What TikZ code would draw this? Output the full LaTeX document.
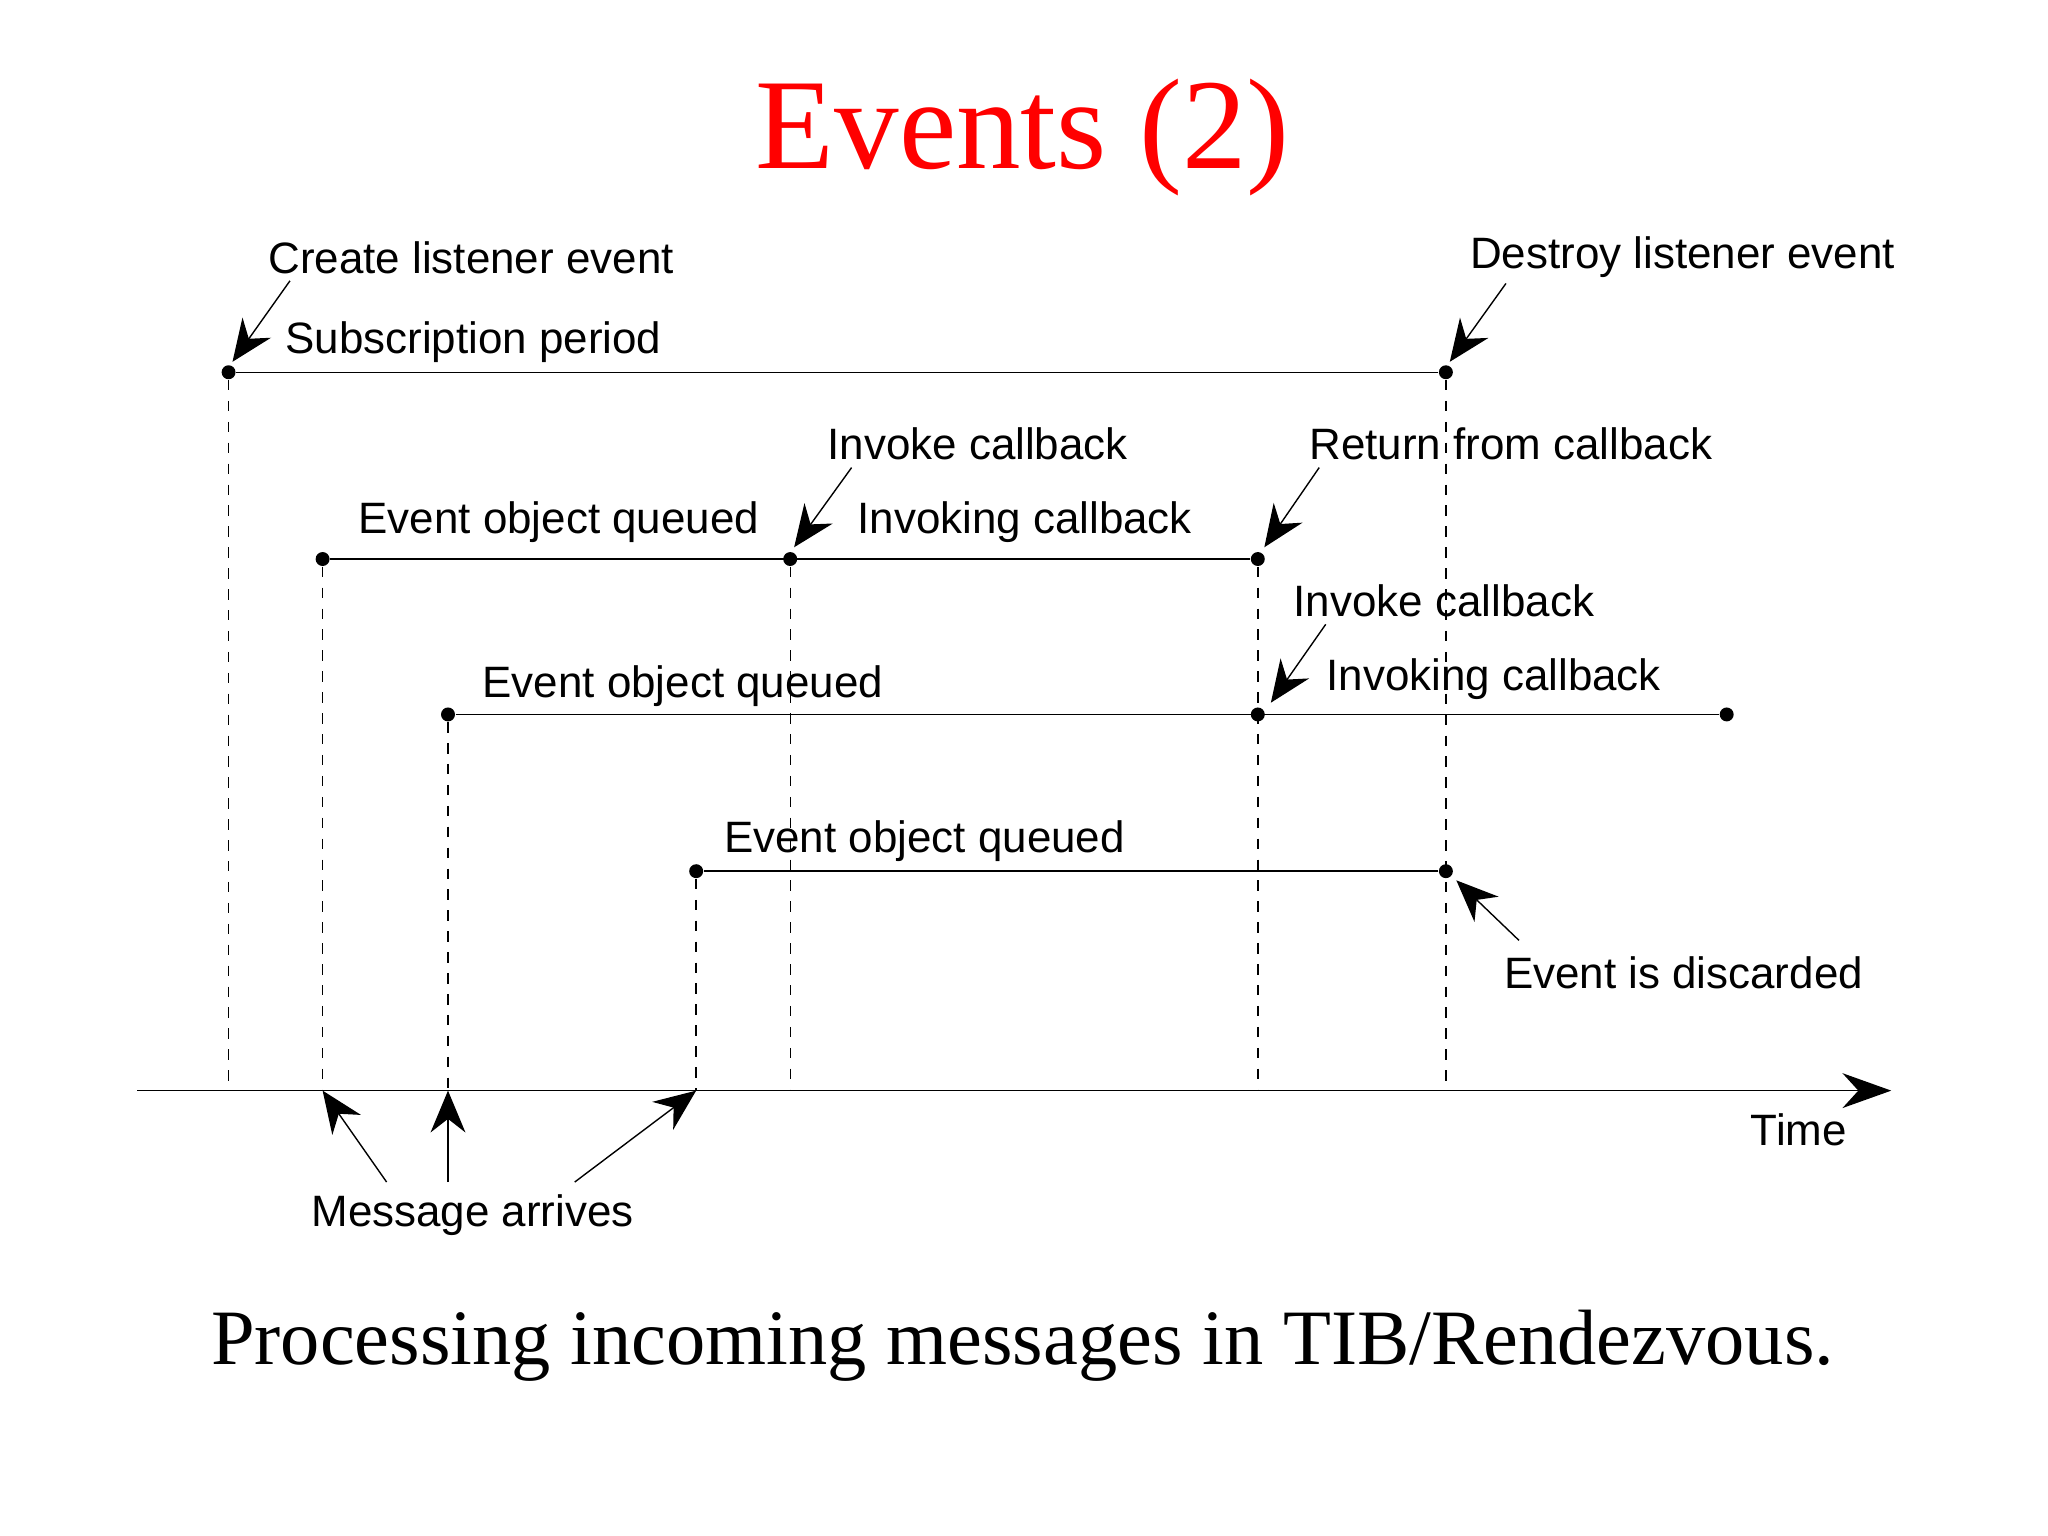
\documentclass[tikz,border=0pt]{standalone}
\usepackage{fontspec}
\setmainfont{Liberation Serif}
\newfontfamily\lab{Liberation Sans}
\usetikzlibrary{arrows.meta}
\begin{document}
\begin{tikzpicture}[x=0.01317cm, y=-0.01317cm,
    txt/.style={font=\lab\fontsize{12.6}{15}\selectfont, anchor=west, inner sep=0pt},
    pt/.style={circle, fill=black, inner sep=0pt, minimum size=4pt},
    ptr/.style={-{Stealth[length=12pt, width=10pt]}, thin},
    drop/.style={dashed, thin}]
    \useasboundingbox (0,0) rectangle (1568,1176);
    %Title and caption
    \node[text=red, font=\fontsize{37}{40}\selectfont] (title) at (783,105) {Events (2)};
    \node[font=\fontsize{22.5}{26}\selectfont] (caption) at (783,1030) {Processing incoming messages in TIB/Rendezvous.};
    %Points
    \node[pt] at (175,285) (s1) {};
    \node[pt] at (1107,285) (s2) {};
    \node[pt] at (247,428) (a1) {};
    \node[pt] at (605,428) (a2) {};
    \node[pt] at (963,428) (a3) {};
    \node[pt] at (343,547) (b1) {};
    \node[pt] at (963,547) (b2) {};
    \node[pt] at (1322,547) (b3) {};
    \node[pt] at (533,667) (c1) {};
    \node[pt] at (1107,667) (c2) {};
    \coordinate (t0) at (105,835);
    \coordinate (t1) at (1448,835);
    \foreach \n/\x in {s1/175,s2/1107,a1/247,a2/605,a3/963,b1/343,c1/533}
        \coordinate (f\n) at (\x,835);
    %Lines
    \draw[thin] (s1) -- (s2);
    \draw[thin] (a1) -- (a3);
    \draw[thin] (b1) -- (b3);
    \draw[thin] (c1) -- (c2);
    \draw[-{Stealth[length=14pt, width=10pt]}, thin] (t0) -- (t1);
    \foreach \n in {s1,s2,a1,a2,a3,b1,c1}
        \draw[drop] (\n) -- (f\n);
    %Labels
    \node[txt] at (205,197) {Create listener event};
    \node[txt] at (218,262) {Subscription period};
    \node[txt] at (1125,197) {Destroy listener event};
    \node[txt] at (633,340) {Invoke callback};
    \node[txt] at (274,400) {Event object queued};
    \node[txt] at (656,400) {Invoking callback};
    \node[txt] at (1002,340) {Return from callback};
    \node[txt] at (990,460) {Invoke callback};
    \node[txt] at (1015,520) {Invoking callback};
    \node[txt] at (369,525) {Event object queued};
    \node[txt] at (554,644) {Event object queued};
    \node[txt] at (1151,745) {Event is discarded};
    \node[txt] at (1340,865) {Time};
    \node[txt] at (238,930) {Message arrives};
    %Pointers
    \coordinate (p1) at (222,215);
    \coordinate (p2) at (1153,217);
    \coordinate (p3) at (652,358);
    \coordinate (p4) at (1010,358);
    \coordinate (p5) at (1015,478);
    \coordinate (p6) at (1163,720);
    \coordinate (m1) at (296,905);
    \coordinate (m2) at (343,905);
    \coordinate (m3) at (440,905);
    \draw[ptr] (p1) -- (178,277);
    \draw[ptr] (p2) -- (1110,277);
    \draw[ptr] (p3) -- (608,419);
    \draw[ptr] (p4) -- (968,419);
    \draw[ptr] (p5) -- (973,538);
    \draw[ptr] (p6) -- (1115,674);
    \draw[ptr] (m1) -- (fa1);
    \draw[ptr] (m2) -- (fb1);
    \draw[ptr] (m3) -- (fc1);
\end{tikzpicture}
\end{document}
